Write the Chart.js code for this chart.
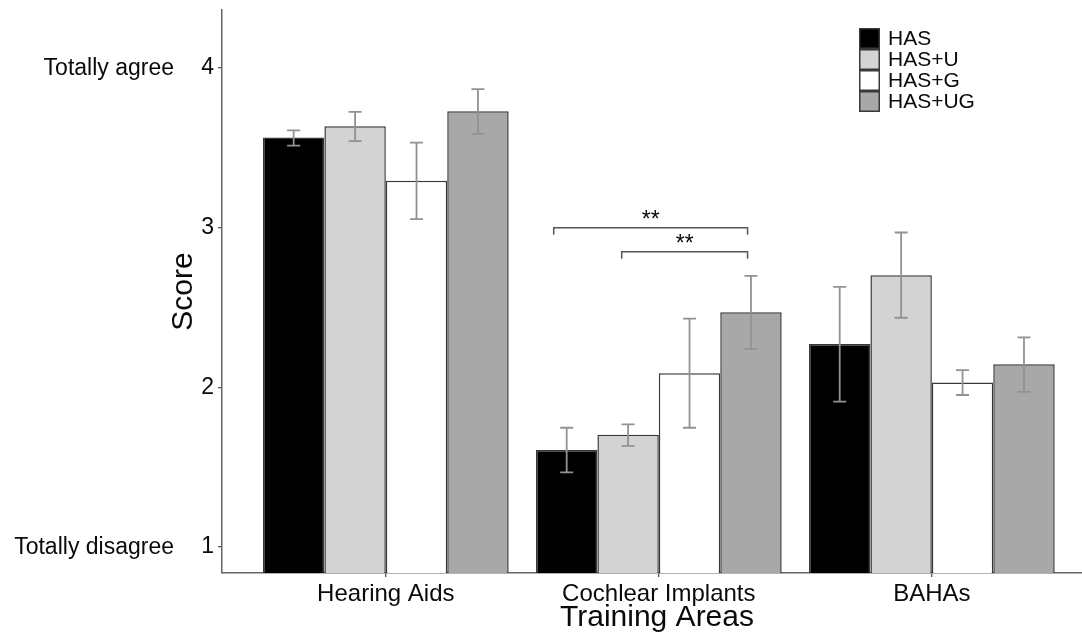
<!DOCTYPE html>
<html>
<head>
<meta charset="utf-8">
<style>
  html, body { margin: 0; padding: 0; background: #fff; overflow: hidden; }
  #wrap { width: 1082px; height: 634px; position: relative; }
</style>
<script src="https://cdn.jsdelivr.net/npm/chart.js@4.4.1/dist/chart.umd.min.js"></script>
</head>
<body>
<div id="wrap"><canvas id="chart" width="1082" height="634"></canvas></div>
<script>
// Training areas (x categories, placed at 1, 2, 3 on the x axis)
const categories = ['Hearing Aids', 'Cochlear Implants', 'BAHAs'];
const groupNames = ['HAS', 'HAS+U', 'HAS+G', 'HAS+UG'];

// Mean scores per group, one value per training area
const scoreHAS   = [3.566, 1.607, 2.271];
const scoreHASU  = [3.636, 1.703, 2.703];
const scoreHASG  = [3.294, 2.088, 2.031];
const scoreHASUG = [3.730, 2.470, 2.144];

// Error bar limits (lower, upper) per group
const lowHAS    = [3.514, 1.468, 1.910];
const highHAS   = [3.610, 1.747, 2.630];
const lowHASU   = [3.542, 1.634, 2.436];
const highHASU  = [3.726, 1.768, 2.970];
const lowHASG   = [3.054, 1.747, 1.952];
const highHASG  = [3.533, 2.430, 2.108];
const lowHASUG  = [3.588, 2.240, 1.972];
const highHASUG = [3.868, 2.699, 2.313];

// Y tick values and the anchor labels of the rating scale
const yTicks = [1, 2, 3, 4];
const scaleAnchors = [{ value: 4, text: 'Totally agree' }, { value: 1, text: 'Totally disagree' }];

// Significance brackets on the Cochlear Implants group
const brackets = [
  { x0: 1.615, x1: 2.325, y: 3.00, label: '**' },
  { x0: 1.864, x1: 2.325, y: 2.85, label: '**' }
];

const fills = ['#000000', '#d3d3d3', '#ffffff', '#a8a8a8'];
const FONT = '"Liberation Sans", Arial, Helvetica, sans-serif';
const TEXT = '#0a0a0a';

const scores = [scoreHAS, scoreHASU, scoreHASG, scoreHASUG];
const lows = [lowHAS, lowHASU, lowHASG, lowHASUG];
const highs = [highHAS, highHASU, highHASG, highHASUG];

const datasets = groupNames.map((name, i) => ({
  label: name,
  data: scores[i].map((v, j) => ({ x: j + 1, y: v })),
  backgroundColor: fills[i],
  borderColor: '#383838',
  borderWidth: 1.5,
  borderSkipped: 'start',
  categoryPercentage: 0.9,
  barPercentage: 1.0,
  errLow: lows[i],
  errHigh: highs[i]
}));

const decorations = {
  id: 'decorations',
  afterDatasetsDraw(chart) {
    const ctx = chart.ctx;
    const ys = chart.scales.y, xs = chart.scales.x;
    ctx.save();
    // error bars
    ctx.strokeStyle = '#929292';
    ctx.lineWidth = 1.8;
    chart.data.datasets.forEach((ds, di) => {
      const meta = chart.getDatasetMeta(di);
      meta.data.forEach((bar, j) => {
        const x = bar.x;
        const yLo = ys.getPixelForValue(ds.errLow[j]);
        const yHi = ys.getPixelForValue(ds.errHigh[j]);
        const cap = 6.5;
        ctx.beginPath();
        ctx.moveTo(x, yLo); ctx.lineTo(x, yHi);
        ctx.moveTo(x - cap, yLo); ctx.lineTo(x + cap, yLo);
        ctx.moveTo(x - cap, yHi); ctx.lineTo(x + cap, yHi);
        ctx.stroke();
      });
    });
    // significance brackets
    ctx.strokeStyle = '#555555';
    ctx.lineWidth = 1.5;
    ctx.fillStyle = TEXT;
    ctx.font = '23px ' + FONT;
    ctx.textAlign = 'center';
    ctx.textBaseline = 'alphabetic';
    brackets.forEach(b => {
      const xa = xs.getPixelForValue(b.x0), xb = xs.getPixelForValue(b.x1);
      const y = ys.getPixelForValue(b.y);
      const tip = 7;
      ctx.beginPath();
      ctx.moveTo(xa, y + tip); ctx.lineTo(xa, y); ctx.lineTo(xb, y); ctx.lineTo(xb, y + tip);
      ctx.stroke();
      ctx.fillText(b.label, (xa + xb) / 2, y - 1);
    });
    ctx.restore();
  },
  afterDraw(chart) {
    const ctx = chart.ctx;
    const ys = chart.scales.y;
    const area = chart.chartArea;
    ctx.save();
    ctx.fillStyle = TEXT;
    // rating-scale anchor labels
    ctx.font = '23px ' + FONT;
    ctx.textAlign = 'right';
    ctx.textBaseline = 'middle';
    scaleAnchors.forEach(a => {
      ctx.fillText(a.text, 174, ys.getPixelForValue(a.value) + 1);
    });
    // axis titles
    ctx.font = '30px ' + FONT;
    ctx.textAlign = 'center';
    ctx.textBaseline = 'alphabetic';
    ctx.fillText('Training Areas', 657, 626);
    ctx.save();
    ctx.translate(192, (area.top + area.bottom) / 2);
    ctx.rotate(-Math.PI / 2);
    ctx.fillText('Score', 0, 0);
    ctx.restore();
    // legend
    const lx = 859, ly = 28, box = 21;
    ctx.font = '21px ' + FONT;
    ctx.textAlign = 'left';
    ctx.textBaseline = 'middle';
    chart.data.datasets.forEach((ds, i) => {
      const y = ly + i * box;
      ctx.fillStyle = ds.backgroundColor;
      ctx.fillRect(lx, y, box, box);
      ctx.strokeStyle = '#383838';
      ctx.lineWidth = 1.5;
      ctx.strokeRect(lx + 0.75, y + 0.75, box - 1.5, box - 1.5);
      ctx.fillStyle = TEXT;
      ctx.fillText(ds.label, 888, y + box / 2 + 1);
    });
    ctx.restore();
  }
};

const noEdgePadding = s => { s.paddingTop = 0; s.paddingBottom = 0; s.paddingLeft = 0; s.paddingRight = 0; };

new Chart(document.getElementById('chart'), {
  type: 'bar',
  data: { datasets },
  options: {
    responsive: false,
    animation: false,
    devicePixelRatio: 1,
    layout: { padding: { top: 10, left: 0, right: 0, bottom: 0 } },
    plugins: { legend: { display: false }, tooltip: { enabled: false } },
    scales: {
      x: {
        type: 'linear',
        offset: false,
        min: 0.4,
        max: 3.55,
        afterBuildTicks: s => { s.ticks = categories.map((c, i) => ({ value: i + 1 })); },
        afterFit: s => { s.height = 61; noEdgePadding(s); },
        ticks: {
          callback: v => categories[Math.round(v) - 1] || '',
          font: { family: FONT, size: 24 },
          color: TEXT,
          padding: 3,
          maxRotation: 0,
          autoSkip: false
        },
        grid: { offset: false, drawOnChartArea: false, drawTicks: true, tickLength: 4, color: '#555', lineWidth: 1.3 },
        border: { display: true, color: '#666', width: 1.5 }
      },
      y: {
        min: 0.837,
        max: 4.364,
        afterBuildTicks: s => { s.ticks = yTicks.map(v => ({ value: v })); },
        afterFit: s => { s.width = 222; noEdgePadding(s); },
        ticks: {
          font: { family: FONT, size: 23 },
          color: TEXT,
          padding: 4
        },
        grid: { drawOnChartArea: false, drawTicks: true, tickLength: 4, color: '#555', lineWidth: 1.3 },
        border: { display: true, color: '#666', width: 1.5 }
      }
    }
  },
  plugins: [decorations]
});
</script>
</body>
</html>
